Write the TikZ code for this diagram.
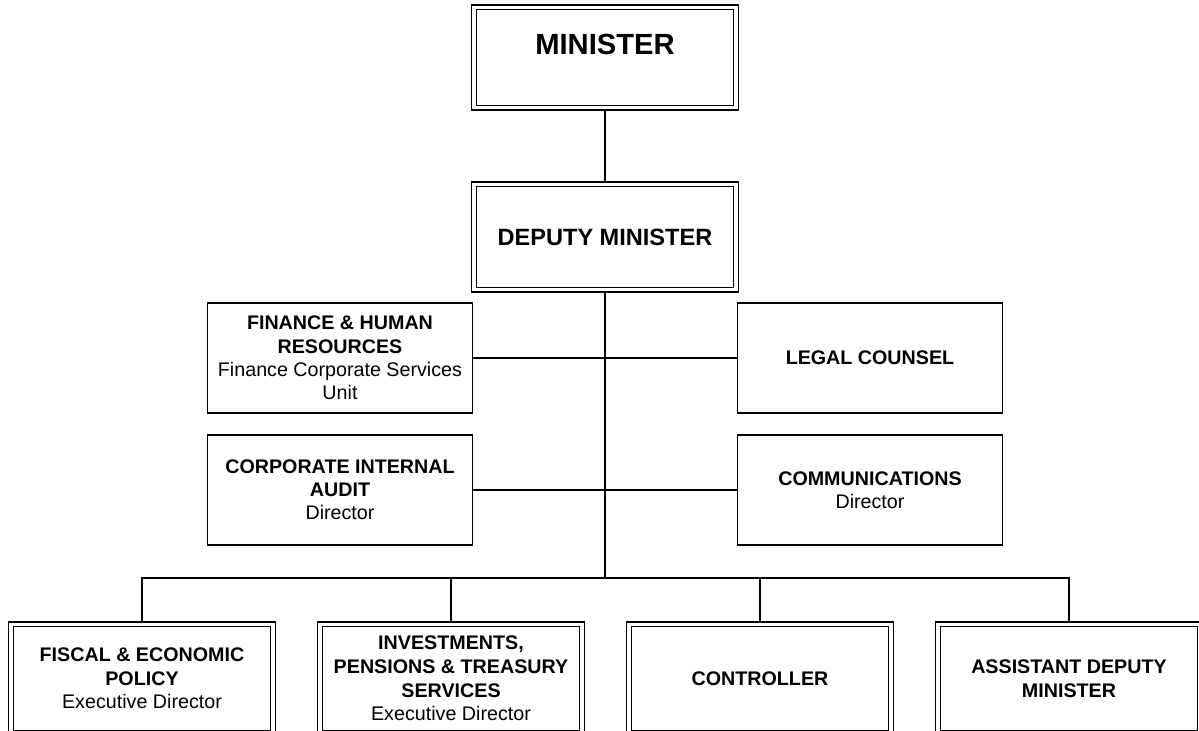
\documentclass[tikz,border=0pt]{standalone}
\usepackage{fontspec}
\setmainfont{Liberation Sans}
\usetikzlibrary{backgrounds}

\begin{document}
\begin{tikzpicture}[x=0.01cm,y=-0.01cm,
   dbox/.style={draw,double,line width=0.3pt,double distance=1.1pt,minimum width=2.61cm,align=center,inner sep=0pt},
   sbox/.style={draw,line width=0.35pt,minimum width=2.65cm,minimum height=1.1cm,align=center,inner sep=0pt,font=\fontsize{5.6}{6.6}\selectfont},
   lbox/.style={dbox,minimum height=1.08cm,font=\fontsize{5.6}{6.7}\selectfont},
   every edge/.style={draw,line width=0.35pt}]
   \useasboundingbox (0,0) rectangle (1199,731);

   \draw (605,57.5) node[dbox,minimum height=1cm,text depth=7.7pt,font=\bfseries\fontsize{8.3}{10}\selectfont] (minister) {MINISTER};
   \draw (605,237) node[dbox,minimum height=1.05cm,font=\bfseries\fontsize{6.7}{8}\selectfont] (deputy) {DEPUTY MINISTER};

     \draw (340,358) node[sbox] (finance) {\textbf{FINANCE \& HUMAN}\\\textbf{RESOURCES}\\Finance Corporate Services\\Unit};
     \draw (870,358) node[sbox] (legal) {\textbf{LEGAL COUNSEL}};
     \draw (340,490) node[sbox] (audit) {\textbf{CORPORATE INTERNAL}\\\textbf{AUDIT}\\Director};
     \draw (870,490) node[sbox] (comms) {\textbf{COMMUNICATIONS}\\Director};

   \coordinate (hub) at (605,578);

      \draw (142,678.5) node[lbox] (fiscal) {\textbf{FISCAL \& ECONOMIC}\\\textbf{POLICY}\\Executive Director};
      \draw (451,678.5) node[lbox] (invest) {\textbf{INVESTMENTS,}\\\textbf{PENSIONS \& TREASURY}\\\textbf{SERVICES}\\Executive Director};
      \draw (760,678.5) node[lbox] (control) {\textbf{CONTROLLER}};
      \draw (1069,678.5) node[lbox] (adm) {\textbf{ASSISTANT DEPUTY}\\\textbf{MINISTER}};

   \begin{scope}[on background layer]
     \path[-] (minister) edge (deputy);
     \path[-] (deputy) edge[line width=0.5pt] (hub);
     \path[-] (finance) edge (legal);
     \path[-] (audit) edge (comms);
     \draw[line width=0.35pt] (hub) -| (fiscal.north);
     \draw[line width=0.35pt] (hub) -| (invest.north);
     \draw[line width=0.35pt] (hub) -| (control.north);
     \draw[line width=0.35pt] (hub) -| (adm.north);
   \end{scope}
\end{tikzpicture}
\end{document}
